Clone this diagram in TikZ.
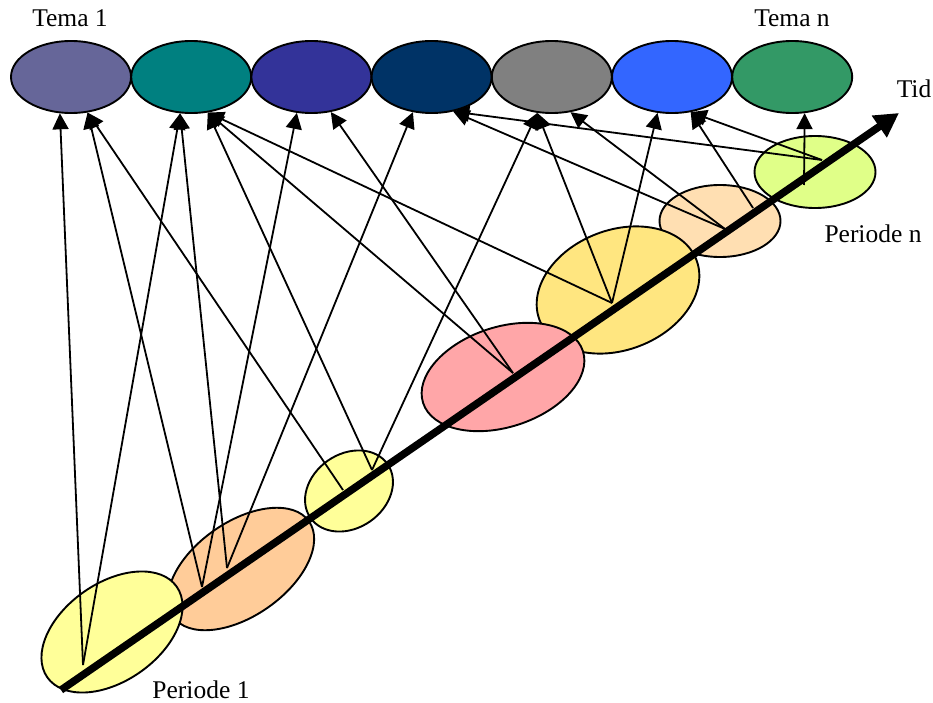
\documentclass[tikz,border=0pt]{standalone}
\usepackage{fontspec}
\setmainfont{Liberation Serif}
\usepackage{tikz}
\usepackage{xcolor}
\usetikzlibrary{shapes.geometric,arrows.meta}

\definecolor{tema1}{RGB}{102,102,153}
\definecolor{tema2}{RGB}{0,128,128}
\definecolor{tema3}{RGB}{51,51,153}
\definecolor{tema4}{RGB}{0,51,102}
\definecolor{tema5}{RGB}{128,128,128}
\definecolor{tema6}{RGB}{51,102,255}
\definecolor{tema7}{RGB}{51,153,102}
\definecolor{gul}{RGB}{255,255,153}
\definecolor{orange}{RGB}{255,204,153}
\definecolor{rosa}{RGB}{255,166,168}
\definecolor{guld}{RGB}{255,230,128}
\definecolor{fersken}{RGB}{255,223,178}
\definecolor{lime}{RGB}{224,255,136}

\begin{document}
\begin{tikzpicture}[x=1pt,y=1pt,yscale=-1,xscale=1,
  tema/.style={ellipse,draw=black,line width=1.9pt,minimum width=120pt,minimum height=72pt,inner sep=0pt},
  periode/.style={ellipse,draw=black,line width=1.9pt,inner sep=0pt},
  pil/.style={line width=1.8pt,-{Triangle[length=16pt,width=16pt]}},
  txt/.style={font=\fontsize{25.5}{30}\selectfont,inner sep=0pt,anchor=base}]
\useasboundingbox (0,0) rectangle (933,703);

%Tema ellipses
\foreach \i in {1,...,7}
  \node[tema,fill=tema\i] (t\i) at ({71+120.2*(\i-1)},77) {};

%Periode ellipses (back to front)
\node[periode,fill=lime,minimum width=121pt,minimum height=72pt] (e7) at (815,172) {};
\node[periode,fill=fersken,minimum width=121pt,minimum height=72pt] (e6) at (720,221) {};
\node[periode,fill=guld,minimum width=168pt,minimum height=120pt,rotate=21] (e5) at (618,290) {};
\node[periode,fill=rosa,minimum width=168pt,minimum height=100pt,rotate=18] (e4) at (503,377) {};
\node[periode,fill=gul,minimum width=94pt,minimum height=74pt,rotate=35] (e3) at (349,491) {};
\node[periode,fill=orange,minimum width=166pt,minimum height=94pt,rotate=35] (e2) at (241,569) {};
\node[periode,fill=gul,minimum width=158pt,minimum height=98pt,rotate=35] (e1) at (112,632) {};

%points on the time line
\coordinate (p1) at (83,665);
\coordinate (p2a) at (202,587);
\coordinate (p2b) at (227,568);
\coordinate (p3a) at (343,490);
\coordinate (p3b) at (372,470);
\coordinate (p4) at (513,373);
\coordinate (p5) at (612,303);
\coordinate (p6a) at (725,229);
\coordinate (p6b) at (753,208);
\coordinate (p7a) at (822,160);
\coordinate (p7b) at (804,185);

%Arrows
\foreach \a/\b in {p1/t1.253,p1/t2.253,p2a/t1.295,p2a/t3.248,p2b/t2.253,p2b/t4.242,
  p3a/t1.295,p3b/t2.295,p3b/t5.248,p4/t2.295,p4/t3.299,p5/t2.295,p5/t5.248,p5/t6.248,
  p6a/t4.302,p6a/t5.298,p6b/t6.298,p7a/t4.302,p7a/t6.298,p7b/t7.289}
  \draw[pil] (\a) -- (\b);

%Time axis
\coordinate (start) at (61,690);
\coordinate (slut) at (899,113);
\draw[line width=7.5pt,-{Triangle[length=24pt,width=25pt]}] (start) -- (slut);

% Text Node
\node[txt] (tema1) at (70,27) {Tema 1};
% Text Node
\node[txt] (teman) at (792,27) {Tema n};
% Text Node
\node[txt] (tid) at (914,98) {Tid};
% Text Node
\node[txt] (periode1) at (201,698) {Periode 1};
% Text Node
\node[txt] (peroden) at (873,243) {Periode n};
\end{tikzpicture}
\end{document}
